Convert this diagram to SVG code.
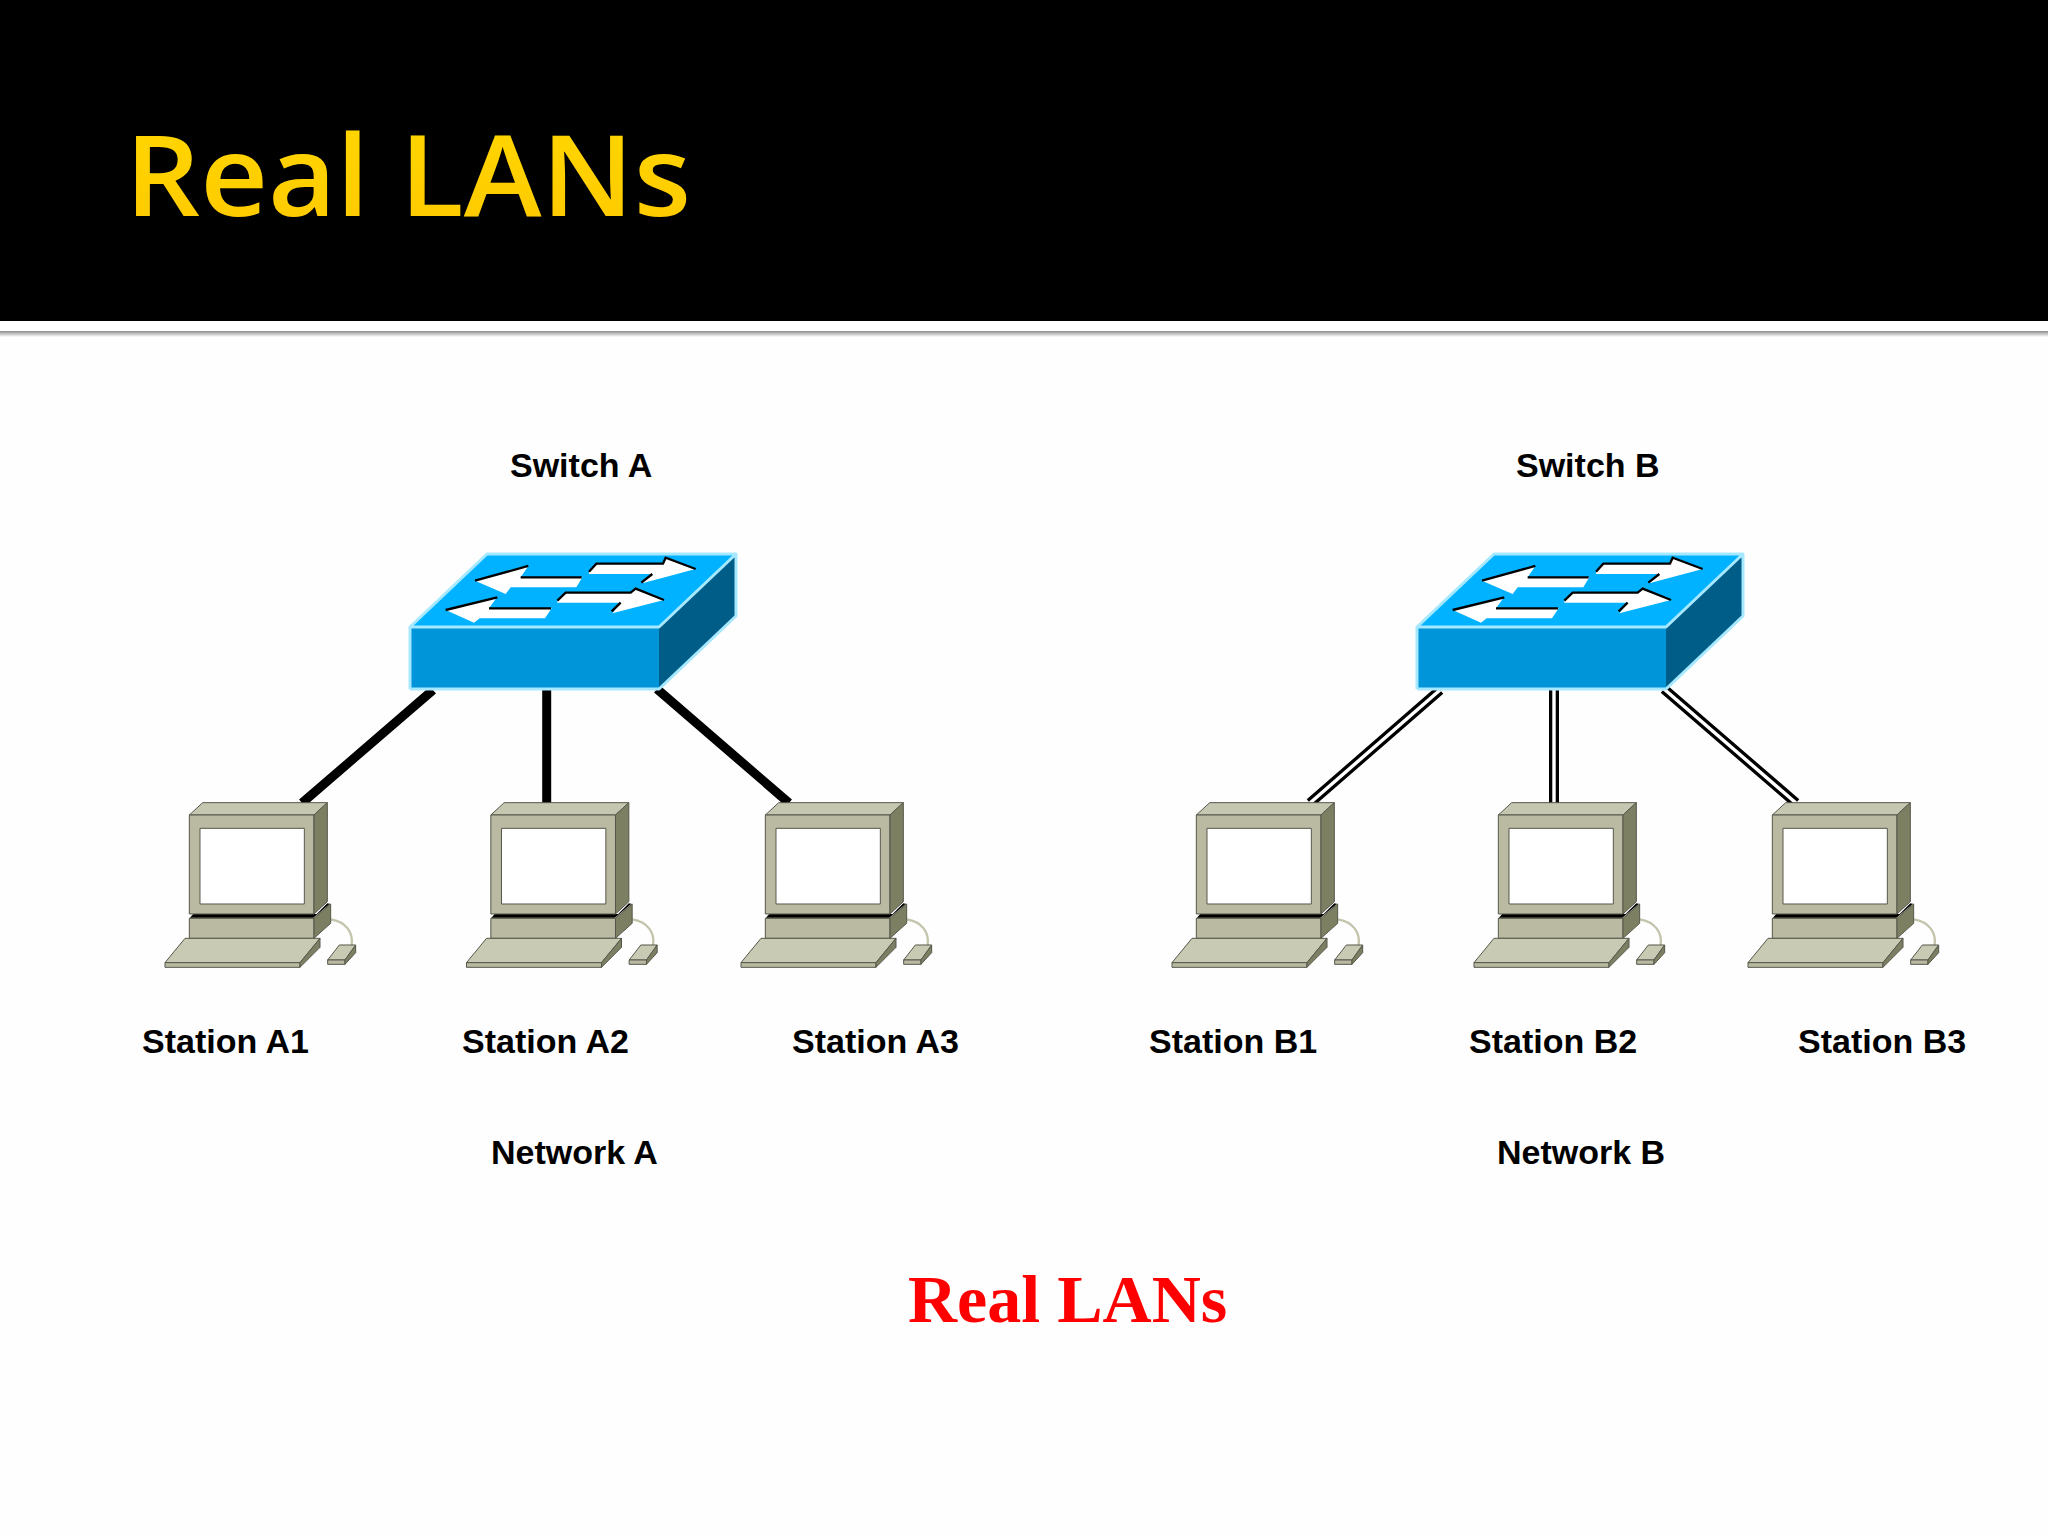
<svg xmlns="http://www.w3.org/2000/svg" width="2048" height="1536" viewBox="0 0 2048 1536">
<style>
.lbl{font-family:"Liberation Sans",Arial,sans-serif;font-weight:700;font-size:34px;fill:#000}
.thick{stroke:#000;stroke-width:9;fill:none}
.outer{stroke:#000;stroke-width:10;fill:none}
.inner{stroke:#fff;stroke-width:3.4;fill:none}
.pc{stroke:#55574a;stroke-width:3;stroke-linejoin:round}
</style>
<defs>
<linearGradient id="sh" x1="0" y1="0" x2="0" y2="1"><stop offset="0" stop-color="#8a8a8a"/><stop offset="1" stop-color="#ffffff"/></linearGradient>
<linearGradient id="gold" x1="0" y1="0" x2="0" y2="1"><stop offset="0" stop-color="#ffd800"/><stop offset="1" stop-color="#ffc800"/></linearGradient>
<g id="switch">
<polygon points="77,0 326,0 249,73 0,73" fill="#00b2ff"/>
<polygon points="0,73 249,73 249,135 0,135" fill="#0095d9"/>
<polygon points="249,73 326,0 326,62 249,135" fill="#005d87"/>
<path d="M0,135H249L326,62V0H77L0,73H249L326,0M0,73V135" fill="none" stroke="#a5e8ff" stroke-width="3" stroke-linejoin="round"/>
<g transform="translate(-21,-24) scale(.33333)">
<polygon points="258,152 418,108 395,142 580,142 562,172 365,172 350,192" fill="#fff"/>
<path d="M258,152L418,108M395,142H578" stroke="#000" stroke-width="7" fill="none"/>
<polygon points="600,127 622,100 820,100 830,80 920,117 760,160 790,132 600,132" fill="#fff"/>
<path d="M600,125L622,101H822L830,83L920,117M790,132L757,158" stroke="#000" stroke-width="7" fill="none"/>
<polygon points="170,240 325,200 300,235 488,235 468,265 272,265 255,278" fill="#fff"/>
<path d="M170,240L325,202M300,235H486" stroke="#000" stroke-width="7" fill="none"/>
<polygon points="505,213 530,187 725,187 740,175 825,210 670,250 695,218 505,218" fill="#fff"/>
<path d="M505,212L530,188H725L740,176L825,210M695,218L668,244" stroke="#000" stroke-width="7" fill="none"/>
</g>
</g>
<g id="pc" class="pc">
<path d="M542,388C590,395 610,430 605,465" fill="none" stroke="#c4c4ac" stroke-width="7"/>
<polygon points="118,385 130,372 500,372 532,340 542,342 492,385" fill="#000" stroke="none"/>
<polygon points="118,386 492,386 542,343 538,343 490,383 120,383" fill="#d9dac8" stroke="none"/>
<polygon points="118,385 492,385 492,445 118,445" fill="#b9baa1"/>
<polygon points="492,385 542,342 542,400 492,445" fill="#7d7f63"/>
<polygon points="118,75 158,38 532,38 492,75" fill="#c6c7b0"/>
<polygon points="118,75 492,75 492,372 118,372" fill="#b9baa1"/>
<polygon points="492,75 532,38 532,335 492,372" fill="#7d7f63"/>
<rect x="150" y="115" width="313" height="227" fill="#fff"/>
<polygon points="45,518 105,445 510,445 450,518" fill="#c9cab4"/>
<polygon points="45,518 450,518 450,532 45,532" fill="#b9baa1"/>
<polygon points="450,518 510,445 510,472 450,532" fill="#7d7f63"/>
<polygon points="533,510 568,465 617,465 585,510" fill="#c9cab4"/>
<polygon points="533,510 585,510 585,523 533,523" fill="#b9baa1"/>
<polygon points="585,510 617,465 617,488 585,523" fill="#7d7f63"/>
</g>
</defs>
<rect width="2048" height="1536" fill="#fefefe"/>
<g id="header">
<rect width="2048" height="321" fill="#000"/>
<rect y="321" width="2048" height="10" fill="#fff"/>
<rect y="331" width="2048" height="6" fill="url(#sh)"/>
<text x="125" y="216" font-family="'Open Sans',sans-serif" font-weight="600" font-size="113" fill="url(#gold)" textLength="566" lengthAdjust="spacingAndGlyphs">Real LANs</text>
</g>
<g id="connectors">
<path class="thick" d="M433,690L302,803M546.7,689V803M657,689L789,803"/>
<path class="outer" d="M1440,690L1310,803M1554,689V803M1664,689L1796,803"/>
<path class="inner" d="M1440,690L1310,803M1554,689V803M1664,689L1796,803"/>
</g>
<g id="switch-a"><use href="#switch" x="410" y="554"/><text class="lbl" x="510" y="477">Switch A</text></g>
<g id="switch-b"><use href="#switch" x="1417" y="554"/><text class="lbl" x="1516" y="477">Switch B</text></g>
<g id="station-a1"><use href="#pc" transform="translate(150,790) scale(.33333)"/><text class="lbl" x="142" y="1053">Station A1</text></g>
<g id="station-a2"><use href="#pc" transform="translate(451.500,790) scale(.33333)"/><text class="lbl" x="462" y="1053">Station A2</text></g>
<g id="station-a3"><use href="#pc" transform="translate(726,790) scale(.33333)"/><text class="lbl" x="792" y="1053">Station A3</text></g>
<g id="station-b1"><use href="#pc" transform="translate(1157,790) scale(.33333)"/><text class="lbl" x="1149" y="1053">Station B1</text></g>
<g id="station-b2"><use href="#pc" transform="translate(1459,790) scale(.33333)"/><text class="lbl" x="1469" y="1053">Station B2</text></g>
<g id="station-b3"><use href="#pc" transform="translate(1733,790) scale(.33333)"/><text class="lbl" x="1798" y="1053">Station B3</text></g>
<g id="labels">
<text class="lbl" x="491" y="1164">Network A</text>
<text class="lbl" x="1497" y="1164">Network B</text>
<text x="908" y="1322" font-family="'Liberation Serif',serif" font-weight="700" font-size="68" fill="#fe0000">Real LANs</text>
</g>
</svg>
